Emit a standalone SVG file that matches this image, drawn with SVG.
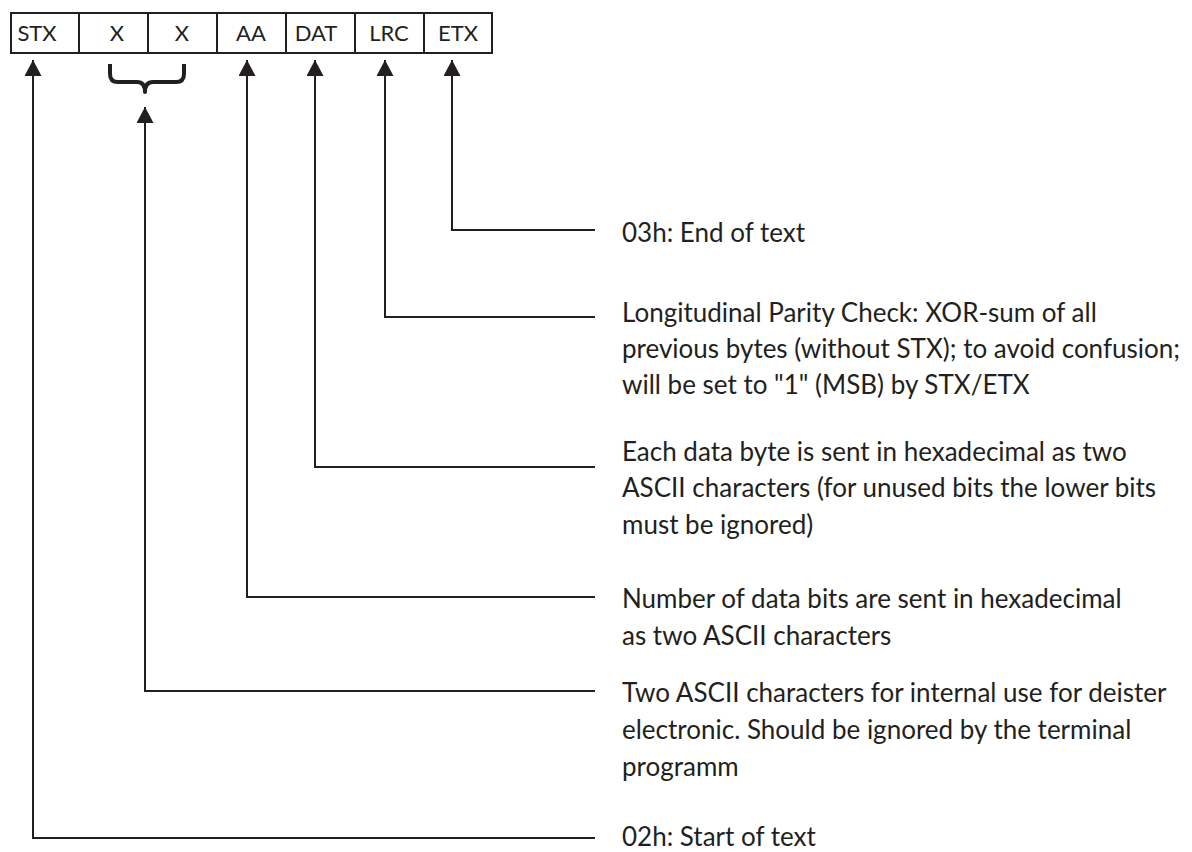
<svg xmlns="http://www.w3.org/2000/svg" width="1192" height="852" viewBox="0 0 1192 852">
<style>
.box{fill:#fff;stroke:#231f20;stroke-width:2}
.lbl{font-family:Lato,"Liberation Sans",sans-serif;font-size:22px;fill:#231f20;text-anchor:middle}
.txt{font-family:Lato,"Liberation Sans",sans-serif;font-size:26px;fill:#231f20}
.con{fill:none;stroke:#231f20;stroke-width:2}
.brace{fill:none;stroke:#231f20;stroke-width:4;stroke-linejoin:round}
</style>
<defs>
<marker id="ah" viewBox="0 0 16 17" refX="16" refY="8.5" markerWidth="16" markerHeight="17" markerUnits="userSpaceOnUse" orient="auto">
<path d="M0,0 L16,8.5 L0,17 Z" fill="#231f20"/>
</marker>
</defs>
<rect x="0" y="0" width="1192" height="852" fill="#fff"/>
<g id="frame">
<g id="stx"><rect class="box" x="11" y="13" width="68" height="40"/><text class="lbl" x="37" y="41">STX</text></g>
<g id="x1"><rect class="box" x="79" y="13" width="69" height="40"/><text class="lbl" x="117" y="41">X</text></g>
<g id="x2"><rect class="box" x="148" y="13" width="69" height="40"/><text class="lbl" x="182" y="41">X</text></g>
<g id="aa"><rect class="box" x="217" y="13" width="69" height="40"/><text class="lbl" x="251" y="41">AA</text></g>
<g id="dat"><rect class="box" x="286" y="13" width="69" height="40"/><text class="lbl" x="316" y="41">DAT</text></g>
<g id="lrc"><rect class="box" x="355" y="13" width="69" height="40"/><text class="lbl" x="389" y="41">LRC</text></g>
<g id="etx"><rect class="box" x="424" y="13" width="68" height="40"/><text class="lbl" x="458" y="41">ETX</text></g>
</g>
<g id="brace-x"><path class="brace" d="M110,64 L110,74 Q110,82 118,82 L137,82 Q145,82 145,92 Q145,82 153,82 L176,82 Q184,82 184,74 L184,64"/></g>
<g id="connectors">
<path class="con" d="M595,838 L33,838 L33,60" marker-end="url(#ah)"/>
<path class="con" d="M595,691 L145,691 L145,107" marker-end="url(#ah)"/>
<path class="con" d="M595,597 L247,597 L247,60" marker-end="url(#ah)"/>
<path class="con" d="M595,467 L315,467 L315,60" marker-end="url(#ah)"/>
<path class="con" d="M595,317 L385,317 L385,60" marker-end="url(#ah)"/>
<path class="con" d="M595,230 L452,230 L452,60" marker-end="url(#ah)"/>
</g>
<g id="desc-etx"><text class="txt" x="622" y="242">03h: End of text</text></g>
<g id="desc-lrc">
<text class="txt" x="622" y="322">Longitudinal Parity Check: XOR-sum of all</text>
<text class="txt" x="622" y="358">previous bytes (without STX); to avoid confusion;</text>
<text class="txt" x="622" y="394">will be set to "1" (MSB) by STX/ETX</text>
</g>
<g id="desc-dat">
<text class="txt" x="622" y="461">Each data byte is sent in hexadecimal as two</text>
<text class="txt" x="622" y="497">ASCII characters (for unused bits the lower bits</text>
<text class="txt" x="622" y="534">must be ignored)</text>
</g>
<g id="desc-aa">
<text class="txt" x="622" y="608">Number of data bits are sent in hexadecimal</text>
<text class="txt" x="622" y="645">as two ASCII characters</text>
</g>
<g id="desc-x">
<text class="txt" x="622" y="702">Two ASCII characters for internal use for deister</text>
<text class="txt" x="622" y="739">electronic. Should be ignored by the terminal</text>
<text class="txt" x="622" y="776">programm</text>
</g>
<g id="desc-stx"><text class="txt" x="622" y="846">02h: Start of text</text></g>
</svg>
